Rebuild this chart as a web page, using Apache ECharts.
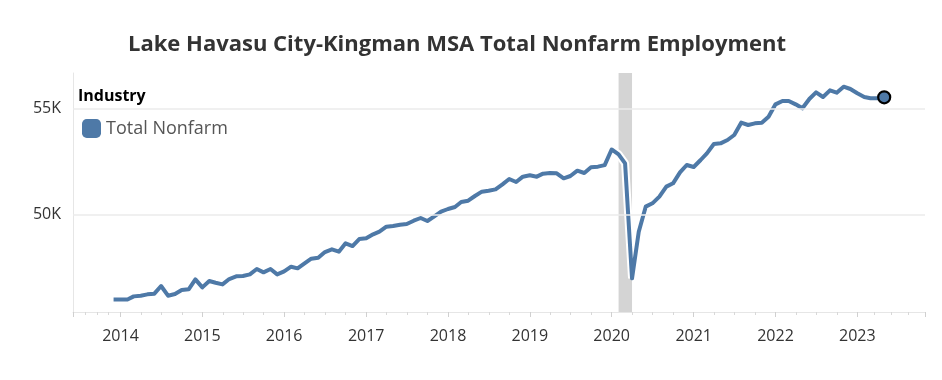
<!DOCTYPE html>
<html>
<head>
<meta charset="utf-8">
<script src="https://cdn.jsdelivr.net/npm/echarts@6/dist/echarts.min.js"></script>
<style>html,body{margin:0;padding:0;background:#fff}#c{width:942px;height:380px}</style>
</head>
<body>
<div id="c"></div>
<script>
// ---- data ----
const startYear = 2013, startMonth = 12; // first month in series
const totalNonfarm = [
  45970,45970,45970,46115,46147,46210,46242,46604,46147,46226,46415,46447,
  46920,46541,46841,46762,46683,46936,47062,47078,47157,47409,47252,47409,
  47157,47299,47520,47441,47678,47899,47946,48214,48341,48230,48625,48498,
  48830,48862,49051,49178,49414,49446,49509,49541,49698,49825,49683,49904,
  50125,50251,50346,50582,50646,50867,51072,51119,51182,51419,51671,51529,
  51782,51845,51782,51924,51955,51940,51703,51813,52066,51955,52224,52255,
  52330,53070,52840,52414,46968,49178,50362,50520,50835,51309,51467,51988,
  52335,52240,52571,52887,53329,53360,53518,53755,54339,54228,54307,54339,
  54623,55207,55365,55365,55207,55018,55460,55775,55554,55870,55760,56044,
  55933,55728,55554,55491,55491,55539
];
const yTickValues = [50000, 55000];
const recessionBand = ['2020-02-01', '2020-04-01'];
const seriesName = 'Total Nonfarm';
const titleText = 'Lake Havasu City-Kingman MSA Total Nonfarm Employment';
const legendTitle = 'Industry';

// month categories
const months = [];
for (let i = 0; i < totalNonfarm.length; i++) {
  const m0 = startMonth - 1 + i;
  const y = startYear + Math.floor(m0 / 12);
  const m = (m0 % 12) + 1;
  months.push(y + '-' + String(m).padStart(2, '0') + '-01');
}
const lineData = months.map((d, i) => [d, totalNonfarm[i]]);
const lastIdx = lineData.length - 1;

const BLUE = '#4e79a7';
const chart = echarts.init(document.getElementById('c'));
chart.setOption({
  animation: false,
  backgroundColor: '#fff',
  title: [
    { text: titleText, left: 123, top: 29,
      textStyle: { fontFamily: 'Open Sans', fontWeight: 'bold', fontSize: 22, color: '#333' } },
    { text: legendTitle, left: 73, top: 83,
      textStyle: { fontFamily: 'Open Sans', fontWeight: 'bold', fontSize: 16, color: '#000' } }
  ],
  legend: {
    data: [seriesName], left: 77, top: 114, orient: 'vertical',
    icon: 'roundRect', itemWidth: 19, itemHeight: 19, itemGap: 9,
    itemStyle: { color: BLUE, borderWidth: 0 },
    textStyle: { fontFamily: 'Open Sans', fontSize: 18, color: '#555' }
  },
  grid: { left: 73, right: 17, top: 73, bottom: 68, containLabel: false },
  xAxis: {
    type: 'time',
    min: '2013-06-03', max: '2023-10-30',
    minInterval: 365 * 86400000, maxInterval: 366 * 86400000,
    axisLine: { show: true, lineStyle: { color: '#e6e6e6', width: 1 } },
    axisTick: { show: true, length: 5, lineStyle: { color: '#d0d0d0' } },
    minorTick: { show: true, splitNumber: 4, length: 3, lineStyle: { color: '#d8d8d8' } },
    splitLine: { show: false },
    axisLabel: {
      formatter: '{yyyy}', margin: 16, showMinLabel: false, showMaxLabel: false,
      fontFamily: 'Open Sans', fontSize: 16, color: '#333'
    }
  },
  yAxis: {
    type: 'value', min: 45375, max: 56690,
    axisLine: { show: true, lineStyle: { color: '#e6e6e6', width: 1 } },
    axisTick: { show: false },
    splitLine: { show: false },
    axisLabel: {
      customValues: yTickValues, margin: 12,
      formatter: v => (v / 1000) + 'K',
      fontFamily: 'Open Sans', fontSize: 16, color: '#333'
    }
  },
  series: [
    {
      name: 'band', type: 'line', data: [], z: 1, silent: true,
      markArea: {
        silent: true,
        itemStyle: { color: '#d4d4d4' },
        data: [[{ xAxis: recessionBand[0] }, { xAxis: recessionBand[1] }]]
      }
    },
    {
      name: 'halo', type: 'line', data: lineData, z: 2, silent: true,
      showSymbol: false, lineStyle: { color: '#fff', width: 8 }, itemStyle: { color: '#fff' },
      markLine: {
        silent: true, symbol: 'none', label: { show: false },
        lineStyle: { color: '#ebebeb', width: 1.5, type: 'solid' },
        data: yTickValues.map(v => ({ yAxis: v }))
      }
    },
    {
      name: seriesName, type: 'line', data: lineData, z: 3,
      symbol: (val, p) => p.dataIndex === lastIdx ? 'circle' : 'none',
      symbolSize: 12, showSymbol: true,
      lineStyle: { color: BLUE, width: 4, join: 'round' },
      itemStyle: { color: BLUE, borderColor: '#000', borderWidth: 2.2 }
    }
  ]
});
</script>
</body>
</html>
